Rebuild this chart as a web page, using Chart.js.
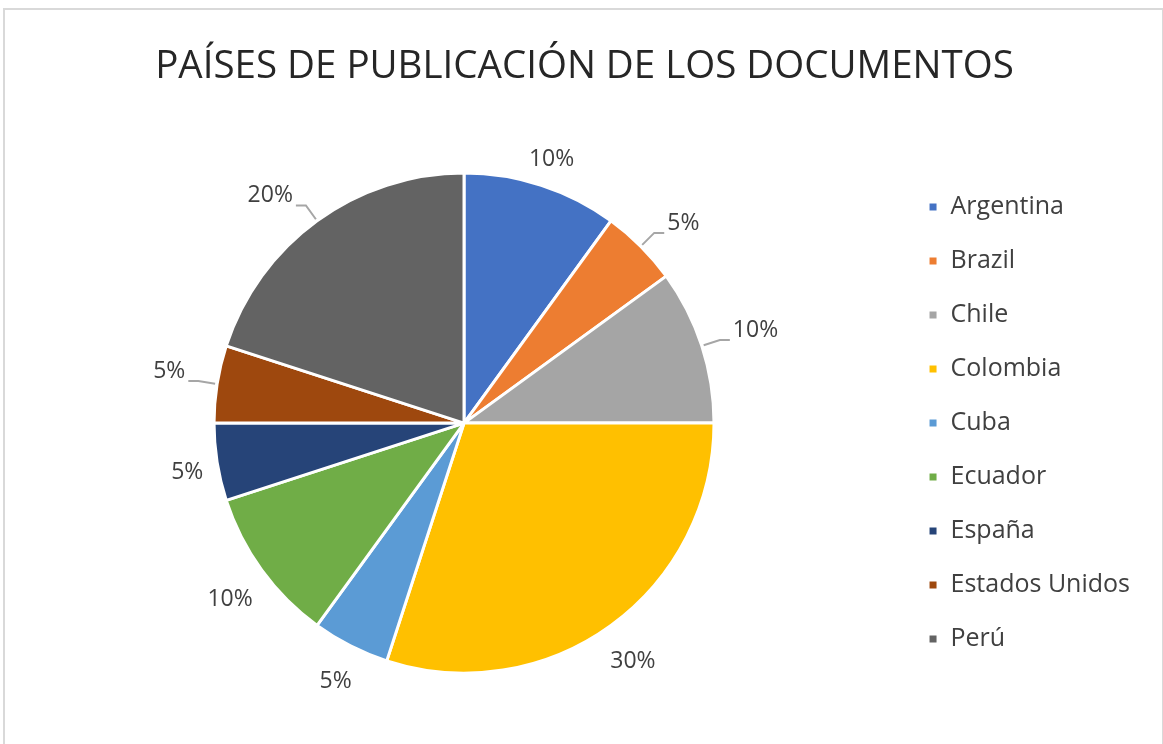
<!DOCTYPE html>
<html>
<head>
<meta charset="utf-8">
<script src="https://cdn.jsdelivr.net/npm/chart.js@4.4.1/dist/chart.umd.min.js"></script>
<style>
  html, body { margin: 0; padding: 0; background: #fff; }
  #wrap { position: relative; width: 1163px; height: 744px; }
  #frame { position: absolute; left: 3px; top: 8px; width: 1157px; height: 745px;
           border: 2px solid #d9d9d9; pointer-events: none; }
</style>
</head>
<body>
<div id="wrap">
  <canvas id="pie" width="1163" height="744"></canvas>
  <div id="frame"></div>
</div>
<script>
// datos del grafico
var paises = ['Argentina', 'Brazil', 'Chile', 'Colombia', 'Cuba', 'Ecuador', 'España', 'Estados Unidos', 'Perú'];
var porcentajes = [10, 5, 10, 30, 5, 10, 5, 5, 20];
var colores = ['#4472C4', '#ED7D31', '#A5A5A5', '#FFC000', '#5B9BD5', '#70AD47', '#264478', '#9E480E', '#636363'];
// etiquetas con linea guia (como en Excel)
var conLinea = [false, true, true, false, false, false, false, true, true];

var FONT = "'Open Sans', 'Noto Sans', sans-serif";

// dibuja los porcentajes fuera de cada sector
var etiquetasPlugin = {
  id: 'etiquetas',
  afterDatasetsDraw: function(chart) {
    var ctx = chart.ctx;
    var meta = chart.getDatasetMeta(0);
    var data = chart.data.datasets[0].data;
    var total = data.reduce(function(a, b) { return a + b; }, 0);
    ctx.save();
    ctx.font = '23px ' + FONT;
    ctx.fillStyle = '#404040';
    meta.data.forEach(function(arc, i) {
      var p = arc.getProps(['x', 'y', 'startAngle', 'endAngle', 'outerRadius'], true);
      var a = (p.startAngle + p.endAngle) / 2;
      var ux = Math.cos(a), uy = Math.sin(a);
      var r = p.outerRadius;
      var txt = Math.round(data[i] / total * 100) + '%';
      var w = ctx.measureText(txt).width, h = 30;
      if (conLinea[i]) {
        var x0 = p.x + ux * (r + 2), y0 = p.y + uy * (r + 2);
        var x1 = p.x + ux * (r + 19), y1 = p.y + uy * (r + 19);
        var dir = ux >= 0 ? 1 : -1;
        var x2 = x1 + dir * 10;
        ctx.strokeStyle = '#a6a6a6';
        ctx.lineWidth = 2;
        ctx.beginPath();
        ctx.moveTo(x0, y0);
        ctx.lineTo(x1, y1);
        ctx.lineTo(x2, y1);
        ctx.stroke();
        ctx.textAlign = dir > 0 ? 'left' : 'right';
        ctx.textBaseline = 'alphabetic';
        ctx.fillText(txt, x2 + dir * 3, y1 - 3);
      } else {
        var d = r + 12 + Math.abs(ux) * w / 2 + Math.abs(uy) * h / 2;
        ctx.textAlign = 'center';
        ctx.textBaseline = 'middle';
        ctx.fillText(txt, p.x + ux * d, p.y + uy * d + 6);
      }
    });
    ctx.restore();
  }
};

var ctx = document.getElementById('pie').getContext('2d');
var chart = new Chart(ctx, {
  type: 'pie',
  data: {
    labels: paises,
    datasets: [{
      data: porcentajes,
      backgroundColor: colores,
      borderColor: '#ffffff',
      borderWidth: 3
    }]
  },
  options: {
    responsive: false,
    animation: false,
    radius: 250,
    layout: { padding: { left: 29, top: 0, right: 23, bottom: 50 } },
    plugins: {
      title: {
        display: true,
        text: 'PAÍSES DE PUBLICACIÓN DE LOS DOCUMENTOS',
        color: '#262626',
        font: { family: FONT, size: 38.5, weight: 'normal', lineHeight: 1.2 },
        padding: { top: 44, bottom: 62 }
      },
      legend: {
        position: 'right',
        fullSize: false,
        labels: {
          boxWidth: 10,
          boxHeight: 10,
          padding: 29,
          color: '#404040',
          font: { family: FONT, size: 25 }
        }
      },
      tooltip: { enabled: false }
    }
  },
  plugins: [etiquetasPlugin]
});
</script>
</body>
</html>
